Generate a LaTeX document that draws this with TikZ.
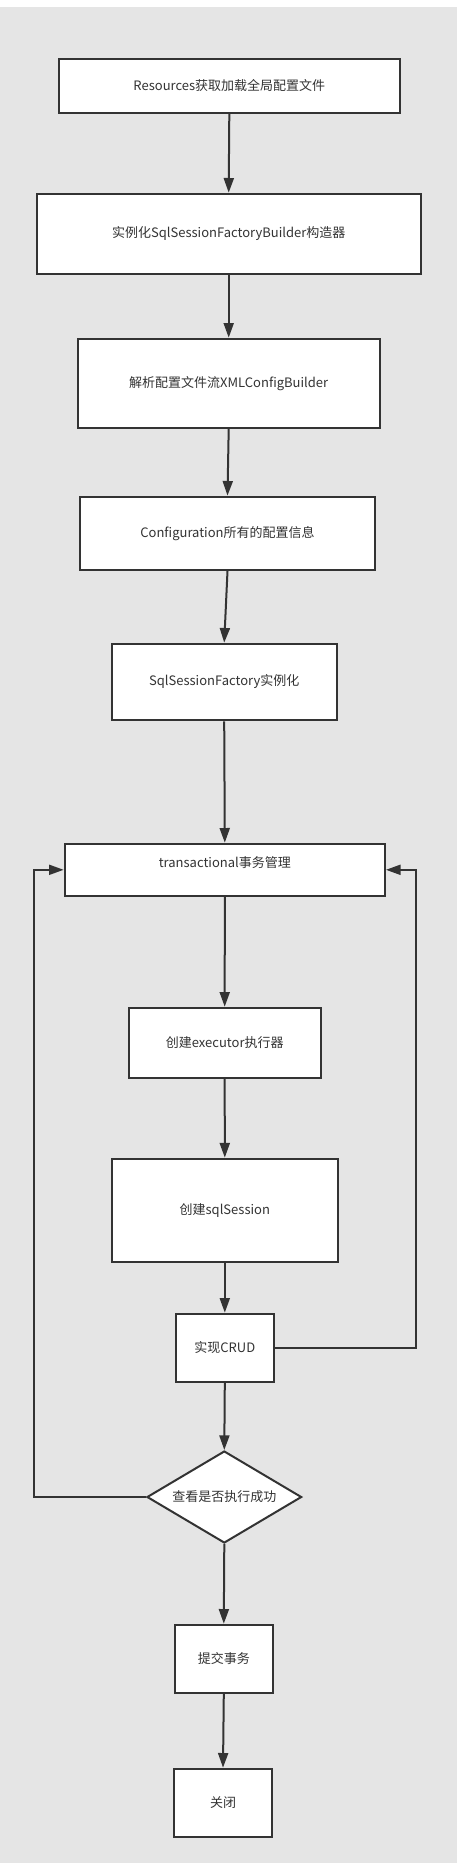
\documentclass[tikz,border=0pt]{standalone}
\usepackage{fontspec}
\setmainfont{Noto Sans CJK SC}
\usetikzlibrary{shapes.geometric,arrows.meta}
\definecolor{flowline}{HTML}{333333}
\definecolor{flowbg}{HTML}{E5E5E5}

\begin{document}
\begin{tikzpicture}[x=0.75pt,y=-0.75pt,
  box/.style={draw=flowline, line width=1.5pt, fill=white, text=flowline,
    font=\fontsize{9.75pt}{12pt}\selectfont, inner sep=0pt},
  decision/.style={box, diamond, aspect=1.67},
  flow/.style={draw=flowline, line width=1.5pt, -{Triangle[length=11pt,width=7.5pt]}}]
  \useasboundingbox (0,0) rectangle (457,1863);
  \fill[flowbg] (0,7) rectangle (457,1863);

  \node[box, minimum width=256pt, minimum height=40.7pt] (res) at (229.3,86) {Resources获取加载全局配置文件};
  \node[box, minimum width=288pt, minimum height=60.5pt] (builder) at (228.7,234) {实例化SqlSessionFactoryBuilder构造器};
  \node[box, minimum width=226.5pt, minimum height=66.8pt] (xml) at (228.7,383.2) {解析配置文件流XMLConfigBuilder};
  \node[box, minimum width=221.7pt, minimum height=55pt] (config) at (227.5,533.3) {Configuration所有的配置信息};
  \node[box, minimum width=168.8pt, minimum height=57.5pt] (factory) at (224.2,682) {SqlSessionFactory实例化};
  \node[box, minimum width=240.2pt, minimum height=39.2pt,
    label={[text=flowline, font=\fontsize{9.75pt}{12pt}\selectfont, yshift=5.5pt]center:transactional事务管理}] (trans) at (224.8,869.8) {};
  \node[box, minimum width=144pt, minimum height=52.5pt] (exec) at (224.7,1042.7) {创建executor执行器};
  \node[box, minimum width=169.7pt, minimum height=77.5pt] (session) at (224.8,1210.3) {创建sqlSession};
  \node[box, minimum width=73.7pt, minimum height=51.2pt] (crud) at (224.8,1347.8) {实现CRUD};
  \node[decision, minimum width=116pt, minimum height=69pt] (check) at (224.3,1497) {查看是否执行成功};
  \node[box, minimum width=73.7pt, minimum height=51.2pt] (commit) at (223.8,1658.8) {提交事务};
  \node[box, minimum width=74pt, minimum height=51.2pt] (close) at (223,1802.8) {关闭};

  \coordinate (lloop) at (33.7,869.8);
  \coordinate (rloop) at (415.7,869.8);

  \draw[flow] (res.south) -- (builder.north);
  \draw[flow] (builder.south) -- (xml.north);
  \draw[flow] (xml.south) -- (config.north);
  \draw[flow] (config.south) -- (factory.north);
  \draw[flow] (factory.south) -- (trans.north);
  \draw[flow] (trans.south) -- (exec.north);
  \draw[flow] (exec.south) -- (session.north);
  \draw[flow] (session.south) -- (crud.north);
  \draw[flow] (crud.south) -- (check.north);
  \draw[flow] (check.south) -- (commit.north);
  \draw[flow] (commit.south) -- (close.north);
  \draw[flow] (crud.east) -| (rloop) -- (trans.east);
  \draw[flow] (check.west) -| (lloop) -- (trans.west);
\end{tikzpicture}
\end{document}
